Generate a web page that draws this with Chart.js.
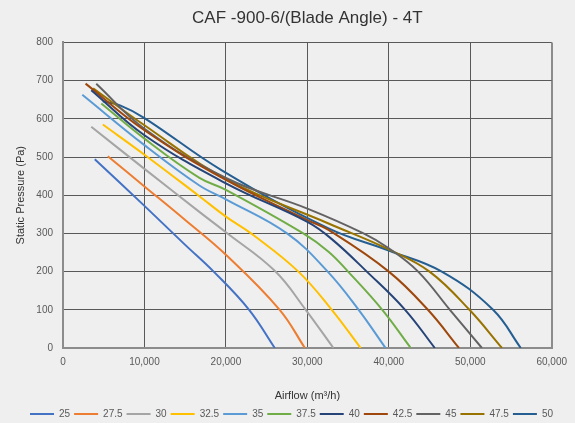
<!DOCTYPE html>
<html>
<head>
<meta charset="utf-8">
<script src="https://cdn.jsdelivr.net/npm/chart.js@4/dist/chart.umd.min.js"></script>
<style>
  html, body { margin: 0; padding: 0; background: #efefef; }
  #wrap { width: 575px; height: 423px; }
</style>
</head>
<body>
<div id="wrap"><canvas id="fanChart" width="575" height="423"></canvas></div>
<script>
// Blade angles (legend labels)
const angles = ['25', '27.5', '30', '32.5', '35', '37.5', '40', '42.5', '45', '47.5', '50']
const colors = ['#4472C4', '#ED7D31', '#A5A5A5', '#FFC000', '#5B9BD5', '#70AD47',
  '#264478', '#9E480E', '#636363', '#997300', '#255E91']

// Airflow (m3/h), static pressure (Pa)
const curve25 = [[3900, 494], [10000, 372], [15000, 270], [18500, 200], [22850, 100], [26000, 0]]
const curve275 = [[5500, 502], [10000, 423], [15000, 335], [20000, 244], [26600, 100], [29700, 0]]
const curve30 = [[3470, 579], [10000, 469], [16700, 357], [20000, 303], [26000, 202], [29800, 100], [33200, 0]]
const curve325 = [[4890, 585], [10000, 506], [16700, 398], [20000, 344], [23400, 295], [28900, 200], [33000, 100], [36550, 0]]
const curve35 = [[2370, 663], [10000, 531], [16700, 426], [20000, 389], [27500, 300], [32500, 200], [36300, 100], [39600, 0]]
const curve375 = [[4700, 640], [10000, 548], [16700, 446], [20000, 414], [29500, 300], [32600, 252], [35000, 200], [39200, 100], [42700, 0]]
const curve40 = [[3470, 675], [10000, 557], [20000, 431], [30000, 330], [33000, 285], [37300, 200], [42000, 100], [45650, 0]]
const curve425 = [[2770, 692], [10000, 570], [20000, 440], [30000, 335], [32600, 309], [40000, 200], [44800, 100], [48620, 0]]
const curve45 = [[4080, 692], [10000, 574], [20000, 445], [30000, 365], [36900, 300], [40000, 261], [43600, 200], [47500, 100], [51430, 0]]
const curve475 = [[3700, 680], [10000, 583], [20000, 442], [32600, 326], [40000, 258], [45000, 200], [49900, 100], [53900, 0]]
const curve50 = [[4890, 646], [7000, 635], [10000, 602], [19500, 465], [32600, 313], [40000, 255], [46500, 200], [52800, 100], [56200, 0]]

const curves = [curve25, curve275, curve30, curve325, curve35, curve375, curve40, curve425, curve45, curve475, curve50]

const xTicks = [0, 10000, 20000, 30000, 40000, 50000, 60000]

const datasets = angles.map((label, i) => ({
  label: label,
  data: curves[i].map(p => ({ x: p[0], y: p[1] })),
  borderColor: colors[i],
  backgroundColor: colors[i],
  borderWidth: 2,
  pointRadius: 0,
  tension: 0.4,
  fill: false
}))

const tickFont = { family: 'Liberation Sans', size: 10 }
const edgeX = (v) => v === 0 || v === 60000

const config = {
  type: 'line',
  data: { datasets: datasets },
  options: {
    responsive: false,
    animation: false,
    layout: { padding: { left: 8, right: 0, top: 0, bottom: -6 } },
    plugins: {
      title: {
        display: true,
        fullSize: false,
        text: 'CAF -900-6/(Blade Angle) - 4T',
        color: '#333333',
        font: { family: 'Liberation Sans', size: 17, weight: 'normal' },
        padding: { top: 8, bottom: 14 }
      },
      legend: {
        position: 'bottom',
        labels: {
          usePointStyle: true,
          pointStyle: 'line',
          pointStyleWidth: 24,
          padding: 4,
          color: '#595959',
          font: tickFont
        }
      },
      tooltip: { enabled: false }
    },
    scales: {
      x: {
        type: 'linear',
        min: 0,
        max: 60000,
        afterBuildTicks: (scale) => { scale.ticks = xTicks.map(v => ({ value: v })) },
        afterFit: (scale) => { scale.height = 57 },
        ticks: {
          color: '#595959',
          font: tickFont,
          padding: 8,
          maxRotation: 0,
          callback: (v) => v.toLocaleString('en-US')
        },
        grid: {
          drawTicks: false,
          color: (ctx) => (ctx.tick && edgeX(ctx.tick.value)) ? '#8c8c8c' : '#595959',
          lineWidth: (ctx) => (ctx.tick && edgeX(ctx.tick.value)) ? 2 : 1
        },
        border: { color: '#8c8c8c', width: 2 },
        title: {
          display: true,
          text: 'Airflow (m³/h)',
          color: '#333333',
          font: { family: 'Liberation Sans', size: 11 },
          padding: { top: 0, bottom: 2 }
        }
      },
      y: {
        min: 0,
        max: 800,
        afterFit: (scale) => { scale.width = 55 },
        ticks: {
          stepSize: 100,
          color: '#595959',
          font: tickFont,
          padding: 10
        },
        grid: {
          drawTicks: false,
          color: (ctx) => (ctx.tick && ctx.tick.value === 0) ? '#8c8c8c' : '#595959',
          lineWidth: (ctx) => (ctx.tick && ctx.tick.value === 0) ? 2 : 1
        },
        border: { color: '#8c8c8c', width: 2 },
        title: {
          display: true,
          text: 'Static Pressure (Pa)',
          color: '#333333',
          font: { family: 'Liberation Sans', size: 11 },
          padding: { top: 6, bottom: 0 }
        }
      }
    }
  }
}

const fanChart = new Chart(document.querySelector('#fanChart'), config)
</script>
</body>
</html>
